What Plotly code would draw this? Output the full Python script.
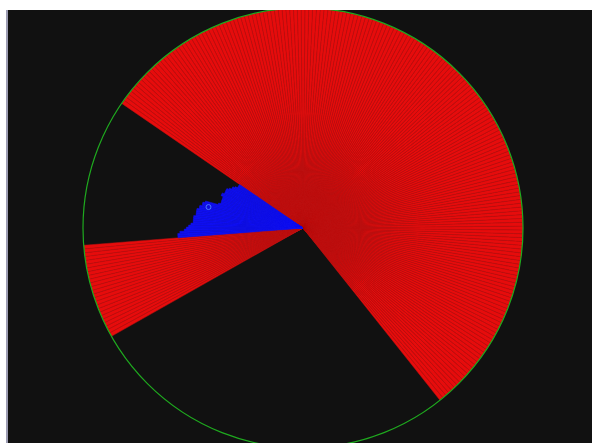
import plotly.graph_objects as go

# Angular bins are 1 degree wide (theta in degrees, counterclockwise from east)
red_sectors = [(309, 360), (0, 146), (185, 210)]   # [start, stop) in degrees
red_level = 100

blue_theta = [146, 147, 148, 149, 150, 151, 152, 153, 154, 155, 156, 157, 158,
              159, 160, 161, 162, 163, 164, 165, 166, 167, 168, 169, 170, 171,
              172, 173, 174, 175, 176, 177, 178, 179, 180, 181, 182, 183, 184]
blue_r = [35, 35, 35, 36, 37, 37, 38, 39, 39, 39, 39, 40, 40,
          39, 39, 39, 39, 39, 40, 46, 47, 47, 48, 48, 49, 49,
          49, 49, 50, 50, 50, 50, 51, 52, 53, 54, 56, 57, 57]

point_theta = [167.5]
point_r = [44]

red_theta = []
for start, stop in red_sectors:
    red_theta.extend(range(start, stop))
red_r = [red_level] * len(red_theta)

W, H = 592, 448
BG = "#111111"

fig = go.Figure()
fig.add_trace(go.Barpolar(
    theta=red_theta, r=red_r, width=1,
    marker=dict(color="#e60c0c", line=dict(color="#b81313", width=0.5)),
    showlegend=False,
))
fig.add_trace(go.Barpolar(
    theta=blue_theta, r=blue_r, width=1,
    marker=dict(color="#1010f0", line=dict(color="#1010f0", width=0.5)),
    showlegend=False,
))
fig.add_trace(go.Scatterpolar(
    theta=point_theta, r=point_r, mode="markers",
    marker=dict(symbol="circle-open", size=5, color="#4a78ff", line=dict(width=1)),
    showlegend=False,
))

fig.update_layout(
    width=W, height=H, autosize=False,
    margin=dict(l=0, r=0, t=0, b=0, pad=0),
    paper_bgcolor=BG, plot_bgcolor=BG,
    bargap=0,
    polar=dict(
        domain=dict(x=[83 / W, 523 / W], y=[0, 440 / H]),
        bgcolor=BG,
        angularaxis=dict(showline=True, linecolor="#1faa1f", linewidth=1.2,
                         showgrid=False, showticklabels=False, ticks="",
                         direction="counterclockwise", rotation=0),
        radialaxis=dict(range=[0, red_level], visible=False, showgrid=False),
    ),
    shapes=[
        dict(type="rect", xref="paper", yref="paper", layer="above",
             x0=0, x1=1, y0=1 - 10 / H, y1=1, fillcolor="white", line_width=0),
        dict(type="rect", xref="paper", yref="paper", layer="above",
             x0=0, x1=6 / W, y0=0, y1=1, fillcolor="white", line_width=0),
        dict(type="rect", xref="paper", yref="paper", layer="above",
             x0=6 / W, x1=8 / W, y0=0, y1=1 - 10 / H, fillcolor="#9c9cb2", line_width=0),
    ],
)

fig.write_html(
    "out.html",
    config=dict(displayModeBar=False),
    post_script="document.documentElement.style.overflow='hidden';document.body.style.overflow='hidden';",
)
